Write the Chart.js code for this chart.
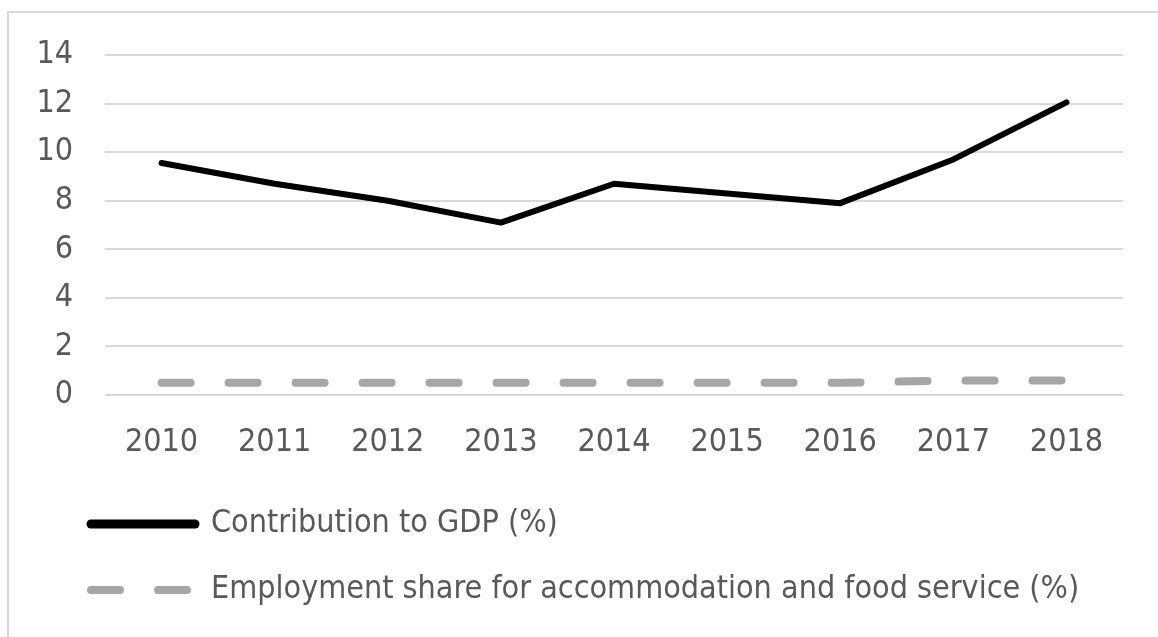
<!DOCTYPE html>
<html>
<head>
<meta charset="utf-8">
<script src="https://cdn.jsdelivr.net/npm/chart.js@4/dist/chart.umd.min.js"></script>
<style>
  html, body { margin: 0; padding: 0; background: #ffffff; }
  #wrap { width: 1158px; height: 637px; position: relative; }
</style>
</head>
<body>
<div id="wrap"><canvas id="c" width="1158" height="637"></canvas></div>
<script>
const years = ['2010', '2011', '2012', '2013', '2014', '2015', '2016', '2017', '2018'];
const gdpContribution = [9.55, 8.7, 8.0, 7.1, 8.7, 8.3, 7.9, 9.7, 12.05];
const employmentShare = [0.5, 0.5, 0.5, 0.5, 0.5, 0.5, 0.5, 0.6, 0.6];
const seriesNames = ['Contribution to GDP (%)', 'Employment share for accommodation and food service (%)'];
const yTicks = [0, 2, 4, 6, 8, 10, 12, 14];

const FONT_FAMILY = "'DejaVu Sans Condensed', 'Liberation Sans Narrow', 'DejaVu Sans', sans-serif";
const TEXT = '#595959';
const GRID = '#d9d9d9';

const frame = {
  id: 'frame',
  beforeDraw(chart) {
    const ctx = chart.ctx;
    ctx.save();
    ctx.fillStyle = '#ffffff';
    ctx.fillRect(0, 0, chart.width, chart.height);
    ctx.strokeStyle = GRID;
    ctx.lineWidth = 2;
    ctx.strokeRect(8, 12, chart.width + 20, chart.height + 20);
    ctx.restore();
  }
};

const legendShift = {
  id: 'legendShift',
  afterLayout(chart) {
    if (chart.legend) { chart.legend.left += 27; }
  }
};

const defaultGen = Chart.defaults.plugins.legend.labels.generateLabels;

new Chart(document.getElementById('c'), {
  type: 'line',
  data: {
    labels: years,
    datasets: [
      {
        label: seriesNames[0],
        data: gdpContribution,
        borderColor: '#000000',
        backgroundColor: '#000000',
        borderWidth: 6,
        borderCapStyle: 'round',
        borderJoinStyle: 'round',
        pointRadius: 0,
        pointHoverRadius: 0,
        tension: 0,
        fill: false
      },
      {
        label: seriesNames[1],
        data: employmentShare,
        borderColor: '#a6a6a6',
        backgroundColor: '#a6a6a6',
        borderWidth: 8,
        borderDash: [29, 38],
        borderCapStyle: 'round',
        borderJoinStyle: 'round',
        pointRadius: 0,
        pointHoverRadius: 0,
        tension: 0,
        fill: false
      }
    ]
  },
  options: {
    responsive: false,
    animation: false,
    devicePixelRatio: 1,
    layout: { padding: { left: 30, top: 55, right: 35, bottom: 21 } },
    scales: {
      x: {
        offset: true,
        grid: { display: false, drawTicks: false },
        border: { display: false },
        ticks: {
          color: TEXT,
          padding: 28,
          maxRotation: 0,
          font: { family: FONT_FAMILY, size: 32 }
        },
        afterFit(scale) { scale.height = 79; }
      },
      y: {
        min: 0,
        max: 14,
        afterBuildTicks(scale) { scale.ticks = yTicks.map(v => ({ value: v })); },
        grid: { color: GRID, lineWidth: 2, drawTicks: false },
        border: { display: false },
        ticks: {
          color: TEXT,
          padding: 32,
          font: { family: FONT_FAMILY, size: 32 }
        },
        afterFit(scale) { scale.width = 75; }
      }
    },
    plugins: {
      tooltip: { enabled: false },
      legend: {
        display: true,
        position: 'bottom',
        align: 'start',
        labels: {
          color: TEXT,
          font: { family: FONT_FAMILY, size: 32 },
          padding: 34,
          usePointStyle: true,
          pointStyle: 'line',
          pointStyleWidth: 104,
          generateLabels(chart) {
            const items = defaultGen(chart);
            items.forEach(item => {
              const ds = chart.data.datasets[item.datasetIndex];
              item.strokeStyle = ds.borderColor;
              item.fillStyle = ds.borderColor;
              item.lineWidth = ds.borderDash ? 8 : 9;
              item.lineDash = ds.borderDash ? [29, 38] : [];
              item.lineCap = 'round';
              item.pointStyle = 'line';
            });
            return items;
          }
        }
      }
    }
  },
  plugins: [frame, legendShift]
});
</script>
</body>
</html>
